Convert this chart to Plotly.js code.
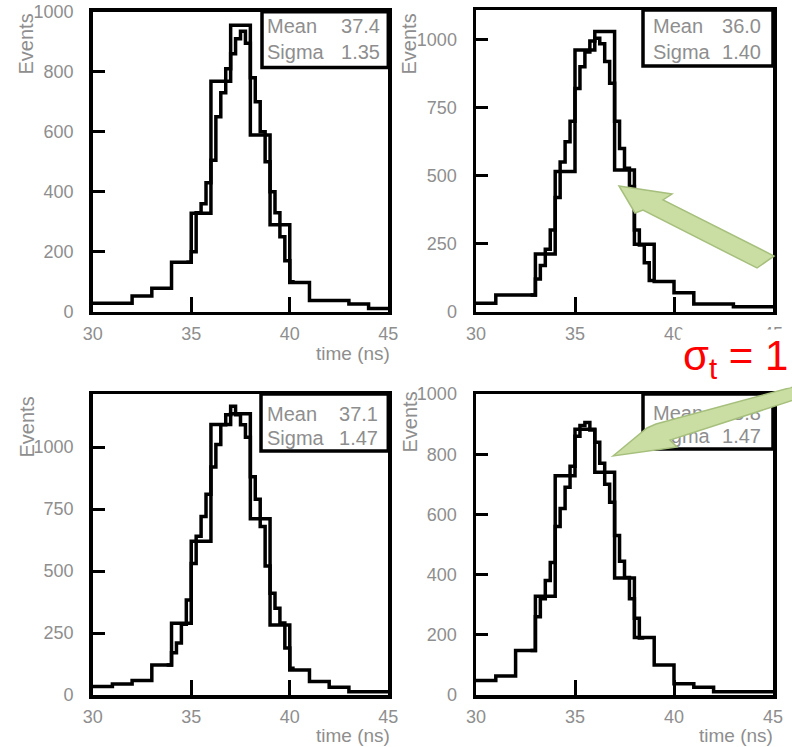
<!DOCTYPE html>
<html><head><meta charset="utf-8">
<script src="https://cdn.plot.ly/plotly-3.0.1.min.js"></script>
<style>html,body{margin:0;padding:0;background:#fff}#chart{width:792px;height:747px}</style>
</head><body><div id="chart"></div>
<script>
// ---------- data ----------
const coarseEdges = [30,31,32,33,34,35,36,37,38,39,40,41,42,43,44,45];
const coarseA = [28,28,52,78,165,328,768,955,589,290,97,37,37,26,11];
const coarseB = [31,61,61,212,515,962,1030,521,248,111,70,28,28,18,18];
const coarseC = [34,44,58,121,289,620,1091,1134,711,282,101,54,31,13,13];
const coarseD = [48,63,148,328,728,883,740,389,191,100,37,26,11,11,11];

const fineEdgesA = [34.75,35,35.25,35.5,35.75,36,36.25,36.5,36.75,37,37.25,37.5,37.75,38,38.25,38.5,38.75,39,39.25,39.5,39.75,40,40.25];
const fineA = [165,200,330,360,430,505,650,730,810,860,910,935,895,780,700,600,500,400,330,250,170,100];
const fineEdgesB = [32.75,33,33.25,33.5,33.75,34,34.25,34.5,34.75,35,35.25,35.5,35.75,36,36.25,36.5,36.75,37,37.25,37.5,37.75,38,38.25,38.5,38.75,39];
const fineB = [61,120,170,230,300,420,550,625,700,820,900,955,995,1005,985,920,840,700,600,527,460,300,245,180,115];
const fineEdgesC = [33.75,34,34.25,34.5,34.75,35,35.25,35.5,35.75,36,36.25,36.5,36.75,37,37.25,37.5,37.75,38,38.25,38.5,38.75,39,39.25,39.5,39.75,40,40.25];
const fineC = [121,170,210,285,383,530,640,720,810,920,1010,1090,1130,1165,1130,1090,1040,880,790,680,520,410,350,290,190,108];
const fineEdgesD = [32.75,33,33.25,33.5,33.75,34,34.25,34.5,34.75,35,35.25,35.5,35.75,36,36.25,36.5,36.75,37,37.25,37.5,37.75,38,38.25,38.5];
const fineD = [148,260,320,380,440,560,620,690,760,860,895,905,880,840,770,700,640,530,444,390,320,255,189];

const timeTicks = [30,35,40,45];
const timeTickLabels = ['30','35','40','45'];
const yTicksA = [0,200,400,600,800,1000];
const yTicksB = [0,250,500,750,1000];
const yTicksC = [0,250,500,750,1000];
const yTicksD = [0,200,400,600,800,1000];
const yMax = [1000,1109,1214,1000];

const statMeans = ['37.4','36.0','37.1','35.8'];
const statSigmas = ['1.35','1.40','1.47','1.47'];

// ---------- geometry helpers ----------
const W = 792, H = 747;
const px = v => v / W;
const py = v => 1 - v / H;

const panels = [
  {x0:92.7, x1:388.3, y0:11.7, y1:311.7},
  {x0:476, x1:773, y0:10, y1:311.7},
  {x0:92.7, x1:388.3, y0:394, y1:695},
  {x0:476, x1:773, y0:394, y1:695}
];

const gray = '#8e8e8e';
const sans = 'Liberation Sans, Arial, sans-serif';

function stepY(vals){ return vals.concat([vals[vals.length-1]]); }

const coarseSets = [coarseA, coarseB, coarseC, coarseD];
const fineSets = [[fineEdgesA, fineA],[fineEdgesB, fineB],[fineEdgesC, fineC],[fineEdgesD, fineD]];
const yTickSets = [yTicksA, yTicksB, yTicksC, yTicksD];

const traces = [];
const layout = {
  width: W, height: H,
  margin: {l:0, r:0, t:0, b:0},
  paper_bgcolor: '#fff', plot_bgcolor: '#fff',
  showlegend: false,
  shapes: [], annotations: []
};

panels.forEach((p, i) => {
  const n = i === 0 ? '' : String(i + 1);
  const xa = 'x' + n, ya = 'y' + n;
  traces.push({x: coarseEdges, y: stepY(coarseSets[i]), xaxis: xa, yaxis: ya,
    mode: 'lines', line: {shape: 'hv', color: '#000', width: 3.5}, hoverinfo: 'skip'});
  traces.push({x: fineSets[i][0], y: stepY(fineSets[i][1]), xaxis: xa, yaxis: ya,
    mode: 'lines', line: {shape: 'hv', color: '#000', width: 3.5}, hoverinfo: 'skip'});

  layout['xaxis' + n] = {
    domain: [px(p.x0), px(p.x1)], range: [30, 45], anchor: ya,
    tickvals: timeTicks, ticktext: timeTickLabels,
    ticks: 'inside', ticklen: 15, tickwidth: 3, tickcolor: '#000',
    showline: true, linewidth: 3.5, linecolor: '#000', mirror: true,
    showgrid: false, zeroline: false,
    tickfont: {family: sans, size: 18, color: gray}, ticklabelstandoff: 3
  };
  layout['yaxis' + n] = {
    domain: [py(p.y1), py(p.y0)], range: [0, yMax[i]], anchor: xa,
    tickvals: yTickSets[i], ticktext: yTickSets[i].map(String),
    ticks: 'inside', ticklen: 12, tickwidth: 3, tickcolor: '#000',
    showline: true, linewidth: 3.5, linecolor: '#000', mirror: true,
    showgrid: false, zeroline: false,
    tickfont: {family: sans, size: 18, color: gray}, ticklabelstandoff: 12
  };
});

// stats boxes
const boxes = [
  {x0:262, x1:388.3, y0:11.7, y1:67.5, tl:264, tr:383, r1:24, r2:50},
  {x0:643, x1:773, y0:10, y1:66, tl:650, tr:764, r1:24, r2:50},
  {x0:261, x1:388.3, y0:394, y1:451, tl:264, tr:381, r1:412, r2:436},
  {x0:643, x1:773, y0:394, y1:449, tl:650, tr:764, r1:411, r2:434}
];
const statFont = {family: sans, size: 20, color: gray};
boxes.forEach((b, i) => {
  layout.shapes.push({type:'rect', xref:'paper', yref:'paper', layer:'above',
    x0:px(b.x0), x1:px(b.x1), y0:py(b.y1), y1:py(b.y0),
    line:{color:'#000', width:3.5}, fillcolor:'#fff'});
  const rows = [[b.r1, 'Mean', statMeans[i]], [b.r2, 'Sigma', statSigmas[i]]];
  rows.forEach(r => {
    layout.shapes.push({type:'rect', xref:'paper', yref:'paper', layer:'above',
      x0:px(b.tl), x1:px(b.tr), y0:py(r[0]+11), y1:py(r[0]-11),
      line:{width:0}, fillcolor:'rgba(0,0,0,0)',
      label:{text:r[1], textposition:'middle left', font:statFont, padding:0}});
    layout.shapes.push({type:'rect', xref:'paper', yref:'paper', layer:'above',
      x0:px(b.tl), x1:px(b.tr), y0:py(r[0]+11), y1:py(r[0]-11),
      line:{width:0}, fillcolor:'rgba(0,0,0,0)',
      label:{text:r[2], textposition:'middle right', font:statFont, padding:0}});
  });
});

// green arrows
function pathFrom(pts){
  return 'M' + pts.map(q => px(q[0]) + ',' + py(q[1])).join(' L') + ' Z';
}
const arrow1 = [[619,186],[672,194],[663,200],[774,256],[757,268],[643,210],[635,213]];
const arrow2 = [[613,456],[647,428],[656,424],[800,385],[800,398],[670,440],[677,447]];
[arrow1, arrow2].forEach(a => {
  layout.shapes.push({type:'path', xref:'paper', yref:'paper', layer:'above',
    path: pathFrom(a), fillcolor:'#cadea4', line:{color:'#a6bf7c', width:1.5}});
});

// axis titles
const evPos = [[26,12],[409,12],[26,395],[409,390]];
evPos.forEach(e => layout.annotations.push({xref:'paper', yref:'paper',
  x:px(e[0]), y:py(e[1]), xanchor:'center', yanchor:'top', textangle:-90,
  text:'Events', showarrow:false, font:{family:sans, size:20, color:gray}}));
// (the top-right panel's x title is hidden under the red label in the reference)
const tPos = [[392,353],[392,735],[775,735]];
tPos.forEach(t => layout.annotations.push({xref:'paper', yref:'paper',
  x:px(t[0]), y:py(t[1]), xanchor:'right', yanchor:'middle',
  text:'time (ns)', showarrow:false, font:{family:sans, size:19, color:gray}}));

// red sigma label
layout.annotations.push({xref:'paper', yref:'paper', x:px(680), y:py(358),
  xanchor:'left', yanchor:'middle', text:'σ<sub>t</sub> = 1', showarrow:false,
  bgcolor:'#fff', borderpad:2,
  font:{family:sans, size:42, color:'#ff0000'}});

Plotly.newPlot('chart', traces, layout, {staticPlot:true, displayModeBar:false});
</script>
</body></html>
